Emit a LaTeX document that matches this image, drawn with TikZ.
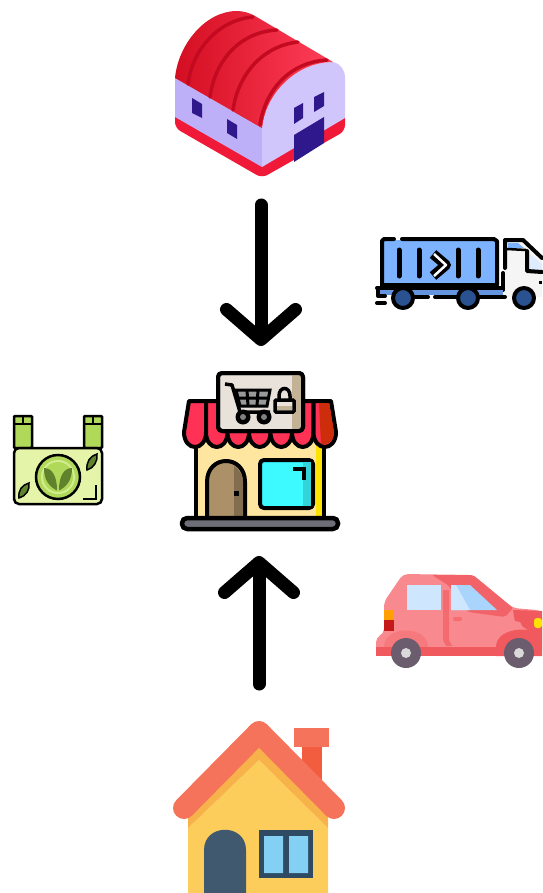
\documentclass[tikz,border=0pt]{standalone}
\usepackage{xcolor}
\usetikzlibrary{arrows.meta, calc, positioning}
\definecolor{roofred}{RGB}{240, 25, 55}
\definecolor{roofdark}{RGB}{212, 14, 34}
\definecolor{rooflight}{RGB}{255, 62, 88}
\definecolor{ribred}{RGB}{196, 10, 32}
\definecolor{walllilac}{RGB}{190, 176, 248}
\definecolor{walllight}{RGB}{209, 198, 251}
\definecolor{doorindigo}{RGB}{46, 24, 140}
\definecolor{awnred}{RGB}{255, 50, 85}
\definecolor{awndark}{RGB}{205, 45, 10}
\definecolor{shopcream}{RGB}{255, 230, 160}
\definecolor{shopaqua}{RGB}{60, 250, 255}
\definecolor{shopdoor}{RGB}{172, 144, 104}
\definecolor{shopdoordark}{RGB}{130, 110, 78}
\definecolor{signpale}{RGB}{232, 226, 219}
\definecolor{signtan}{RGB}{196, 178, 150}
\definecolor{basegray}{RGB}{110, 110, 120}
\definecolor{truckblue}{RGB}{125, 178, 255}
\definecolor{wheelblue}{RGB}{42, 82, 145}
\definecolor{carpink}{RGB}{248, 137, 142}
\definecolor{carred}{RGB}{240, 90, 95}
\definecolor{carglass}{RGB}{207, 230, 255}
\definecolor{carglassb}{RGB}{169, 212, 251}
\definecolor{tyregray}{RGB}{107, 92, 110}
\definecolor{bagpale}{RGB}{228, 245, 170}
\definecolor{baggreen}{RGB}{176, 217, 90}
\definecolor{leafgreen}{RGB}{95, 130, 45}
\definecolor{houseroof}{RGB}{245, 115, 90}
\definecolor{housestack}{RGB}{242, 92, 63}
\definecolor{houseyellow}{RGB}{253, 205, 92}
\definecolor{houseband}{RGB}{247, 178, 74}
\definecolor{houseslate}{RGB}{64, 89, 110}
\definecolor{houseframe}{RGB}{47, 74, 99}
\definecolor{housepane}{RGB}{132, 208, 245}
\begin{document}
\begin{tikzpicture}[x=1pt, y=-1pt,
	flow/.style={-{Straight Barb[round,length=30pt,width=69pt]}, black, line width=13pt, line cap=round},
	ink/.style={black, line width=4pt, line join=round, line cap=round},
	rib/.style={ribred, line width=3.5pt, line cap=round}]
	\useasboundingbox (0,0) rectangle (542,893);
	
	%--- Warehouse ---
	\begin{scope}
		\fill[roofred, rounded corners=6pt] (175,112) -- (175,128) -- (262,178) -- (345,131) -- (345,112) -- cycle;
		\fill[walllilac] (175,78) -- (262,128) -- (262,167) -- (175,117) -- cycle;
		\fill[walllight] (262,128) .. controls (265,95) and (295,62) .. (333,62)
			.. controls (341,64) and (345,70) .. (345,78) -- (345,118) -- (262,167) -- cycle;
		\shade[left color=roofdark, right color=rooflight]
			(175,78) .. controls (178,45) and (205,11) .. (237,11)
			.. controls (243,11) and (250,13) .. (255,16) -- (333,62)
			.. controls (295,62) and (265,95) .. (262,128) -- cycle;
		\draw[rib] (188,84) .. controls (192,50) and (218,20) .. (253,17);
		\draw[rib] (210,97) .. controls (215,60) and (240,32) .. (277,30);
		\draw[rib] (233,110) .. controls (238,75) and (262,46) .. (298,42);
		\draw[rib] (260,125) .. controls (265,90) and (290,62) .. (327,60);
		\fill[doorindigo] (192,98) -- (202,104) -- (202,118) -- (192,113) -- cycle;
		\fill[doorindigo] (227,119) -- (237,125) -- (237,139) -- (227,133) -- cycle;
		\fill[doorindigo] (294,108) -- (303,103) -- (303,118) -- (294,124) -- cycle;
		\fill[doorindigo] (314,97) -- (324,92) -- (324,106) -- (314,112) -- cycle;
		\fill[doorindigo] (294,135) -- (324,117) -- (324,143) -- (294,162) -- cycle;
	\end{scope}
	
	%--- Truck ---
	\begin{scope}
		\fill[white!96!black] (505,240) -- (523,240) -- (542,258) -- (542,297) -- (503,297) -- cycle;
		\fill[truckblue] (508,243) -- (518,243) -- (524,248) -- (508,248) -- cycle;
		\fill[truckblue!25!white] (527,252) -- (542,264) -- (542,270) -- (527,270) -- cycle;
		\draw[ink] (505,268) -- (505,240) -- (523,240) -- (542,258);
		\draw[black, line width=2.5pt] (507,249) -- (526,250);
		\draw[ink] (527,251) -- (527,271) -- (542,272);
		\draw[ink] (503,273) -- (503,290);
		\fill[black] (539,281) rectangle (542,284);
		\fill[truckblue] (384,240) rectangle (495,285);
		\draw[ink] (394,239) -- (384,239) -- (382,241) -- (382,285);
		\draw[ink] (402,239) -- (494,239) -- (497,241) -- (497,285) -- (382,285);
		\foreach \barx in {399,419,458,478}
			\draw[black, line width=5pt, line cap=round] (\barx,250) -- (\barx,276);
		\draw[black, line width=10pt, line join=round] (433,254) -- (446,265) -- (433,276);
		\draw[white, line width=2.5pt, line join=round] (434,254) -- (446,265) -- (434,276);
		\fill[truckblue!70!wheelblue] (380,288) rectangle (503,295);
		\draw[ink] (378,288) -- (378,296) -- (385,296);
		\draw[ink] (377,288) -- (503,288);
		\draw[ink] (415,297) -- (428,297) (435,297) -- (505,297) (377,303) -- (385,303);
		\foreach \wheelx in {403,468,524}
			\draw[ink, fill=wheelblue] (\wheelx,298) circle (10pt);
	\end{scope}
	
	%--- Bag ---
	\begin{scope}
		\fill[baggreen] (14,417) rectangle (31,448) (84,417) rectangle (101,448);
		\draw[black, line width=2.5pt, rounded corners=1pt] (14,416) rectangle (32,448);
		\draw[black, line width=2.5pt, rounded corners=1pt] (84,416) rectangle (102,448);
		\draw[black, line width=2pt] (14,424) -- (32,424) (23,416) -- (23,424);
		\draw[black, line width=2pt] (84,424) -- (102,424) (93,416) -- (93,424);
		\draw[black, fill=bagpale, line width=2.5pt, rounded corners=5pt]
			(14,448) -- (14,504) -- (102,504) -- (102,448) -- cycle;
		\draw[black, fill=baggreen, line width=2.5pt] (58,477) circle (22pt);
		\fill[bagpale!70!baggreen] (58,477) circle (17pt);
		\fill[baggreen] (58,477) circle (15pt);
		\fill[leafgreen] (56,490) .. controls (45,484) and (44,474) .. (44,468)
			.. controls (52,468) and (57,476) .. (57,490) -- cycle;
		\fill[leafgreen] (60,490) .. controls (71,484) and (72,474) .. (72,468)
			.. controls (64,468) and (59,476) .. (59,490) -- cycle;
		\draw[black, fill=leafgreen, line width=1.5pt] (19,498) .. controls (18,490) and (22,485) .. (29,483)
			.. controls (30,490) and (26,496) .. (19,498) -- cycle;
		\draw[black, fill=leafgreen, line width=1.5pt] (87,470) .. controls (86,462) and (90,456) .. (97,454)
			.. controls (98,461) and (94,468) .. (87,470) -- cycle;
		\draw[black, line width=2pt] (83,499) -- (96,499) -- (96,485);
	\end{scope}
	
	%--- Shop ---
	\begin{scope}
		\fill[shopcream] (197,432) rectangle (323,518);
		\fill[yellow!85!orange] (316,445) rectangle (323,518);
		\draw[ink] (196,442) -- (196,518) (324,442) -- (324,518);
		% awning
		\draw[ink, fill=awnred] (189,401) -- (206,401) -- (206,432) .. controls (206,452) and (184,452) .. (184,432) -- cycle;
		\foreach \scallopx in {206,227.5,249,270.5,292}
			\draw[ink, fill=awnred] (\scallopx,401) -- (\scallopx,432) .. controls (\scallopx,452) and (\scallopx+21.5,452) .. (\scallopx+21.5,432) -- (\scallopx+21.5,401) -- cycle;
		\draw[ink, fill=awnred] (313.5,401) -- (331,401) -- (336,432) .. controls (336,452) and (313.5,452) .. (313.5,432) -- cycle;
		\fill[awndark] (319,403) -- (329,403) -- (334,432) .. controls (334,442) and (326,446) .. (321,444) -- cycle;
		% sign
		\draw[ink, fill=signpale, rounded corners=4pt] (218,373) rectangle (303,431);
		\fill[signtan] (292,375) rectangle (301,429);
		\draw[ink, rounded corners=4pt] (218,373) rectangle (303,431);
		% cart
		\draw[black, line width=3.5pt, line join=round] (225,384) -- (232,385) -- (240,412) -- (270,412);
		\draw[black, line width=3pt, fill=black!40!white] (236,390) -- (270,390) -- (267,406) -- (240,406) -- cycle;
		\draw[black, line width=3pt] (247,390) -- (248,406) (258,390) -- (257,406) (238,398) -- (269,398);
		\fill[black] (243,417) circle (7.5pt) (264,417) circle (7.5pt);
		\fill[black!50!white] (243,417) circle (3pt) (264,417) circle (3pt);
		% lock
		\draw[black, line width=3.5pt] (279,400) -- (279,396) .. controls (279,386) and (290,386) .. (290,396) -- (290,400);
		\draw[black, fill=signpale, line width=3.5pt, rounded corners=1pt] (275,400) rectangle (294,412);
		\fill[signtan] (277,406) rectangle (292,410);
		% door
		\draw[ink, fill=shopdoor] (207,518) -- (207,482) .. controls (207,454) and (245,454) .. (245,482) -- (245,518);
		\fill[shopdoordark] (234,466) .. controls (240,470) and (243,476) .. (243,482) -- (243,516) -- (234,516) -- cycle;
		\fill[black] (234,491) rectangle (239,496);
		% window
		\draw[ink, fill=shopaqua, rounded corners=4pt] (260,460) rectangle (313,508);
		\fill[shopaqua!85!black] (303,462) rectangle (311,506);
		\draw[black, line width=4pt] (293,469) -- (304,469) -- (304,480);
		% base
		\draw[ink, line width=4.5pt, fill=basegray, rounded corners=5pt] (182,518) rectangle (338,529);
	\end{scope}
	
	%--- Car ---
	\begin{scope}
		\fill[carpink, rounded corners=5pt] (376,655) -- (376,637) -- (384,634) -- (384,602) -- (403,574) -- (473,575)
			-- (513,608) -- (537,610) -- (542,612) -- (542,655) -- cycle;
		\fill[carred!80!carpink, rounded corners=2pt] (432,575) -- (473,575) -- (513,608) -- (505,617) -- (468,612) -- (448,585) -- cycle;
		\fill[carred] (513,610) -- (542,611) -- (542,640) -- (525,628) -- (515,622) -- cycle;
		\fill[carpink] (444,600) -- (444,640) -- (451,645) -- (500,645) -- (525,632) -- (520,622) -- (468,612) -- cycle;
		\fill[carred!65!carpink] (443,590) -- (449,590) -- (449,640) -- (452,646) -- (446,646) -- (443,640) -- cycle;
		\fill[carred!60!carpink, rounded corners=2pt] (453,617) rectangle (462,621);
		\fill[carglass] (407,585) rectangle (441,610);
		\fill[carglassb] (451,585) -- (470,585) -- (497,610) -- (451,610) -- cycle;
		\fill[carglass] (451,585) -- (456,585) -- (470,610) -- (451,610) -- cycle;
		\fill[orange!75!yellow] (384,610) rectangle (394,620);
		\fill[red!75!black!90!white] (384,620) rectangle (394,631);
		\fill[yellow!85!orange, rounded corners=3pt] (534,618) rectangle (542,628);
		\fill[carred!35!carpink] (384,647) .. controls (384,625) and (428,625) .. (428,647) -- cycle;
		\fill[carred] (376,647) rectangle (542,656);
		\fill[carred] (496,647) .. controls (496,625) and (542,625) .. (542,640) -- (542,656) -- (496,656) -- cycle;
		\foreach \wheelx in {406,519}{
			\fill[tyregray] (\wheelx,653) circle (15pt);
			\fill[white!85!black] (\wheelx,653) circle (5pt);
		}
	\end{scope}
	
	%--- House ---
	\begin{scope}
		\fill[housestack] (302,745) rectangle (322,785);
		\fill[houseroof] (294,728) rectangle (329,747);
		\fill[houseyellow] (188,828) -- (259,760) -- (328,828) -- (328,893) -- (188,893) -- cycle;
		\fill[houseband] (188,808) -- (259,740) -- (328,808) -- (328,828) -- (259,760) -- (188,828) -- cycle;
		\draw[houseroof, line width=22pt, line cap=round, line join=round] (184,808) -- (259,732) -- (334,808);
		\fill[houseslate] (204,893) -- (204,850) .. controls (204,823) and (246,823) .. (246,850) -- (246,893) -- cycle;
		\fill[houseframe] (259,830) rectangle (313,878);
		\fill[housepane] (264,836) rectangle (283,873) (289,836) rectangle (308,873);
	\end{scope}
	
	%--- Arrows ---
	\coordinate (storeout) at (261,205);
	\coordinate (shopin) at (261,346);
	\coordinate (homeout) at (259,684);
	\coordinate (shopback) at (259,556);
	\draw[flow] (storeout) -- (shopin);
	\draw[flow] (homeout) -- (shopback);
\end{tikzpicture}
\end{document}
